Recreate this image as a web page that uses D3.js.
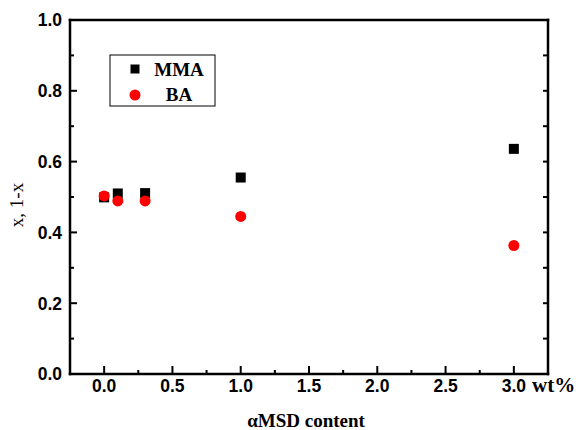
<!DOCTYPE html>
<html><head><meta charset="utf-8">
<script src="https://cdn.jsdelivr.net/npm/d3@7"></script>
<style>body{margin:0;background:#fff}</style>
</head><body>
<svg id="c" width="581" height="430"></svg>
<script>
const xValues = [0, 0.1, 0.3, 1.0, 3.0];
const mmaValues = [0.499, 0.510, 0.511, 0.555, 0.636];
const baValues = [0.503, 0.489, 0.489, 0.445, 0.363];
const xTicks = [0, 0.5, 1.0, 1.5, 2.0, 2.5, 3.0];
const yTicks = [0, 0.2, 0.4, 0.6, 0.8, 1.0];
const seriesNames = ["MMA", "BA"];

const svg = d3.select("#c");
const L = 70, R = 548, T = 20, B = 374;
const x = d3.scaleLinear().domain([-0.25, 3.25]).range([L, R]);
const y = d3.scaleLinear().domain([0, 1]).range([B, T]);
const serif = "Liberation Serif, Times New Roman, serif";
const sans = "Liberation Sans, Arial, sans-serif";

// axes drawn as filled rectangles
const axG = svg.append("g").attr("fill", "#000");
const lw = 2.5, tw = 2;
function bar(x0, y0, w, h) { axG.append("rect").attr("x", x0).attr("y", y0).attr("width", w).attr("height", h); }
bar(L - lw / 2, T - lw / 2, lw, B - T + lw);
bar(R - lw / 2, T - lw / 2, lw, B - T + lw);
bar(L - lw / 2, T - lw / 2, R - L + lw, lw);
bar(L - lw / 2, B - lw / 2, R - L + lw, lw);
function addTicks(vals, side, len) {
  vals.forEach(d => {
    if (side === "left") bar(L, y(d) - tw / 2, len, tw);
    else if (side === "right") bar(R - len, y(d) - tw / 2, len, tw);
    else bar(x(d) - tw / 2, B - len, tw, len);
  });
}
addTicks(yTicks, "left", 7);
addTicks(d3.range(0.1, 1.0, 0.2), "left", 4);
addTicks(d3.range(0.1, 1.0, 0.1), "right", 5);
addTicks(xTicks, "bottom", 8);
addTicks(d3.range(0.25, 3.25, 0.5), "bottom", 4);

svg.append("g").selectAll("text").data(yTicks).join("text")
  .attr("x", 62).attr("y", d => y(d)).attr("dy", "0.36em")
  .attr("text-anchor", "end")
  .attr("font-family", sans).attr("font-weight", "bold")
  .attr("font-size", 17.5).text(d => d.toFixed(1));
svg.append("g").selectAll("text").data(xTicks).join("text")
  .attr("x", d => x(d)).attr("y", 392)
  .attr("text-anchor", "middle")
  .attr("font-family", sans).attr("font-weight", "bold")
  .attr("font-size", 17.5).text(d => d.toFixed(1));

svg.append("text").attr("x", 532).attr("y", 392)
  .attr("font-family", serif).attr("font-weight", "bold")
  .attr("font-size", 21).text("wt%");

// titles
svg.append("text").attr("x", 306).attr("y", 427).attr("text-anchor", "middle")
  .attr("font-family", serif).attr("font-weight", "bold")
  .attr("font-size", 19).text("αMSD content");
svg.append("text").attr("transform", "translate(23,205) rotate(-90)").attr("text-anchor", "middle")
  .attr("font-family", serif).attr("fill", "#000")
  .attr("font-size", 19).text("x, 1-x");

// data
const s = 10;
svg.append("g").selectAll("rect").data(xValues).join("rect")
  .attr("x", (d) => x(d) - s / 2).attr("y", (d, i) => y(mmaValues[i]) - s / 2)
  .attr("width", s).attr("height", s).attr("fill", "#000");
svg.append("g").selectAll("circle").data(xValues).join("circle")
  .attr("cx", d => x(d)).attr("cy", (d, i) => y(baValues[i]))
  .attr("r", 5.5).attr("fill", "#ff0000");

// legend
const lg = svg.append("g");
lg.append("rect").attr("x", 110).attr("y", 55).attr("width", 105).attr("height", 51)
  .attr("fill", "#fff").attr("stroke", "#000").attr("stroke-width", 1);
lg.append("rect").attr("x", 135 - 4.5).attr("y", 69 - 4.5).attr("width", 9).attr("height", 9).attr("fill", "#000");
lg.append("circle").attr("cx", 135).attr("cy", 95).attr("r", 5.5).attr("fill", "#ff0000");
lg.selectAll("text").data(seriesNames).join("text")
  .attr("x", 179).attr("y", (d, i) => i === 0 ? 76 : 101).attr("text-anchor", "middle")
  .attr("font-family", serif).attr("font-weight", "bold")
  .attr("font-size", 19).text(d => d);
</script>
</body></html>
